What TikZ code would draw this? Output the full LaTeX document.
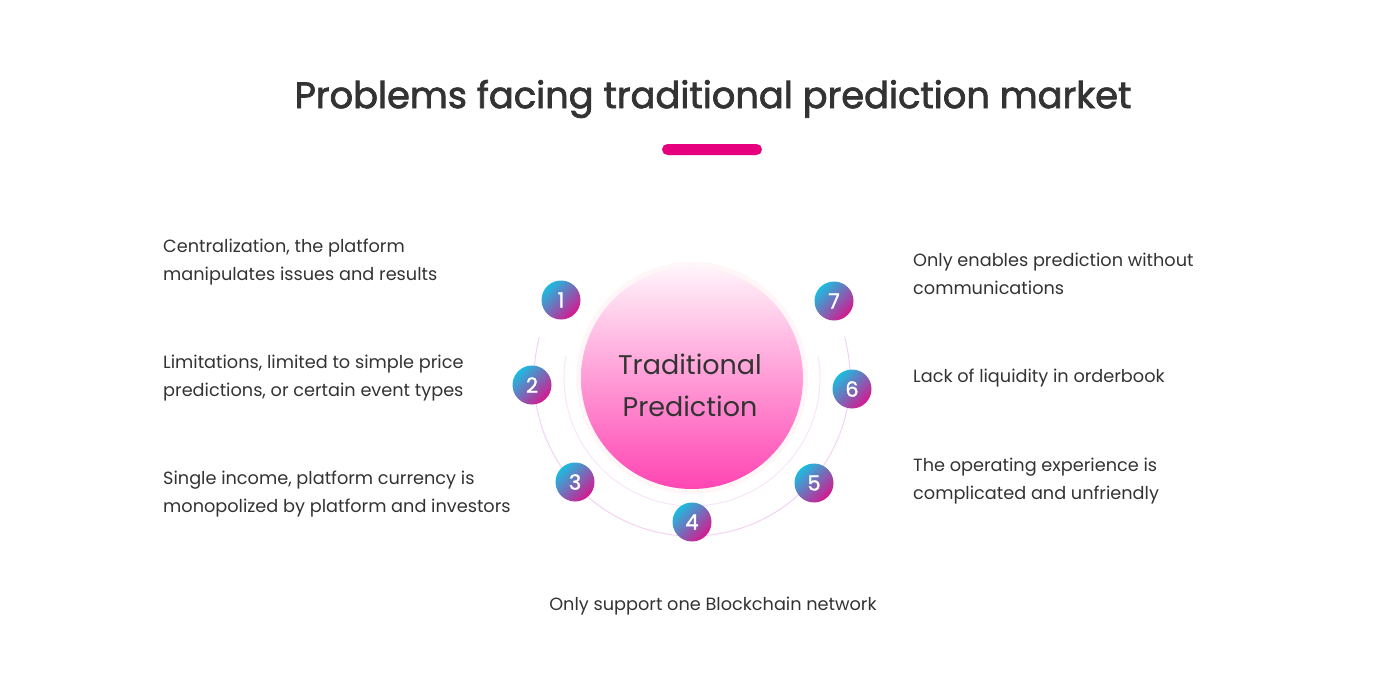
\documentclass[tikz,border=0pt]{standalone}
\usepackage{fontspec}
\setmainfont{Poppins}
\usetikzlibrary{calc}
\definecolor{inkgray}{HTML}{333333}
\definecolor{barpink}{HTML}{E6007E}
\definecolor{numcyan}{HTML}{1CBCE0}
\definecolor{nummag}{HTML}{D6188F}
\definecolor{coretop}{HTML}{FFF3FA}
\definecolor{corebot}{HTML}{FF45B3}
\definecolor{arcpink}{HTML}{F3D2F3}
\newfontfamily\headfont[FakeBold=1.2]{Poppins}
\newfontfamily\titlefont[FakeBold=2]{Poppins}
\tikzset{
	problem/.style={text=inkgray, align=left, anchor=west, inner sep=0pt, font=\fontsize{17.7}{28}\selectfont},
	numball/.style={circle, minimum size=39pt, inner sep=0pt, text=white, font=\headfont\fontsize{21}{21}\selectfont,
		top color=numcyan, bottom color=nummag, shading angle=45},
}
\def\ringarc[#1](#2)(#3:#4:#5){\draw[#1] ($(#2)+({#5*cos(#3)},{#5*sin(#3)})$) arc (#3:#4:#5);}

\begin{document}
\begin{tikzpicture}[x=1pt,y=-1pt]
	\useasboundingbox[fill=white] (0,0) rectangle (1400,677);
	
	\node[text=inkgray, font=\titlefont\fontsize{36.8}{36.8}\selectfont] (title) at (713,99) {Problems facing traditional prediction market};
	\fill[barpink, rounded corners=5.5pt] (662,144) rectangle (762,155);
	
	\coordinate (hub) at (692,378);
	\ringarc[arcpink, line width=1pt](hub)(-15:195:158);
	\ringarc[arcpink!55, line width=1pt](hub)(-10:190:128);
	
	\fill[pink!12] (hub) circle (116);
	\node[circle, minimum size=222pt, inner sep=0pt, top color=coretop, bottom color=corebot] (core) at (hub) {};
	\node[align=center, text=inkgray, font=\fontsize{27}{42}\selectfont] (corelabel) at (690,385) {Traditional\\ Prediction};
	
	\foreach \n/\px/\py in {1/561/300, 2/532/385, 3/575/482, 4/692/522, 5/814/483, 6/852/389, 7/834/301}
		\node[numball] (ball\n) at (\px,\py) {\n};
	
	\node[problem] (prob1) at (163,262) {Centralization, the platform\\ manipulates issues and results};
	\node[problem] (prob2) at (163,378) {Limitations, limited to simple price\\ predictions, or certain event types};
	\node[problem] (prob3) at (163,494) {Single income, platform currency is\\ monopolized by platform and investors};
	\node[problem, anchor=center] (prob4) at (713,606) {Only support one Blockchain network};
	\node[problem] (prob5) at (913,481) {The operating experience is\\ complicated and unfriendly};
	\node[problem] (prob6) at (913,378) {Lack of liquidity in orderbook};
	\node[problem] (prob7) at (913,274) {Only enables prediction without\\ communications};
\end{tikzpicture}
\end{document}
